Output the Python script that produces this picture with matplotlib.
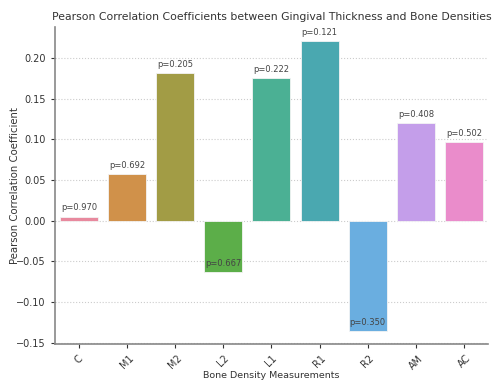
import matplotlib
matplotlib.use("Agg")
import matplotlib.pyplot as plt
import seaborn as sns

measurements = ["C", "M1", "M2", "L2", "L1", "R1", "R2", "AM", "AC"]
correlations = [0.005, 0.057, 0.182, -0.063, 0.175, 0.221, -0.136, 0.120, 0.097]
p_values = [0.970, 0.692, 0.205, 0.667, 0.222, 0.121, 0.350, 0.408, 0.502]

sns.set_style("ticks")
plt.rcParams['font.family'] = ['DejaVu Sans']

fig, ax = plt.subplots(figsize=(4.94, 3.82), dpi=100)
fig.subplots_adjust(left=0.111, right=0.988, top=0.929, bottom=0.099)

# husl-like palette, matched to the reference shades
colors = ["#e8899e", "#d0914a", "#a29c45", "#5cae49", "#4bb094",
          "#4aa8b0", "#6aaee0", "#c49eea", "#ea8ccb"]
ax.bar(range(len(measurements)), correlations, color=colors, width=0.79,
       edgecolor="#f4f4f4", linewidth=0.6, zorder=2)

for i, (r, p) in enumerate(zip(correlations, p_values)):
    ax.text(i, r + 0.005, f"p={p:.3f}", ha="center", va="bottom",
            fontsize=6, color="#444444", zorder=3)

ax.set_xticks(range(len(measurements)))
ax.set_xticklabels(measurements, rotation=45, fontsize=7, color="#333333")
ax.set_xlim(-0.5, 8.5)
ax.set_ylim(-0.152, 0.238)
ax.set_yticks([-0.15, -0.10, -0.05, 0.00, 0.05, 0.10, 0.15, 0.20])
ax.tick_params(axis="y", labelsize=7, colors="#333333", length=3)
ax.tick_params(axis="x", length=3, colors="#333333")
ax.grid(axis="y", linestyle=":", color="#cccccc", linewidth=0.8, zorder=0)

for side in ["top", "right"]:
    ax.spines[side].set_visible(False)
for side in ["left", "bottom"]:
    ax.spines[side].set_color("#888888")
    ax.spines[side].set_linewidth(1.2)

ax.set_title("Pearson Correlation Coefficients between Gingival Thickness and Bone Densities",
             fontsize=7.8, color="#333333", pad=5)
ax.set_xlabel("Bone Density Measurements", fontsize=6.8, color="#333333", labelpad=0)
ax.set_ylabel("Pearson Correlation Coefficient", fontsize=7.3, color="#333333")
ax.yaxis.set_label_coords(-0.08, 0.5)

fig.savefig("out.png", dpi=100)
